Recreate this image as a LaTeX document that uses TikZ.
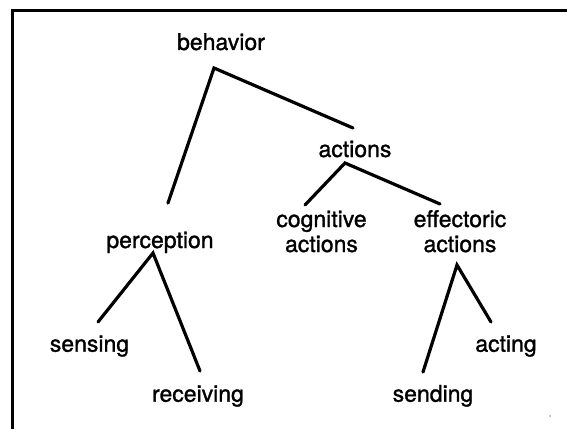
\documentclass[tikz,border=0pt]{standalone}
\usepackage{fontspec}
\setmainfont{TeX Gyre Heros}
\newfontfamily\treefont{TeX Gyre Heros}[FakeBold=1.2]
\begin{document}
\begin{tikzpicture}[x=1pt,y=-1pt,
  label/.style={inner sep=0pt,anchor=base,align=center,
    font=\treefont\fontsize{23}{25}\selectfont},
  branch/.style={line width=3.2pt,line cap=round,line join=miter},
  frameline/.style={line width=3pt}]
  \useasboundingbox (0,0) rectangle (567,428);
  % open frame: left and top edges
  \draw[frameline] (12,430) -- (12,10.5) -- (570,10.5);

  % labels (two-line labels sit on the baseline of their last line)
  \node[label] (behavior)   at (221,50)    {behavior};
  \node[label] (actions)    at (355,157)   {actions};
  \node[label] (cognitive)  at (321.5,252) {cognitive\\actions};
  \node[label] (effectoric) at (460,252)   {effectoric\\actions};
  \node[label] (perception) at (160,248)   {perception};
  \node[label] (sensing)    at (89.5,351.7) {sensing};
  \node[label] (receiving)  at (198,401.7) {receiving};
  \node[label] (acting)     at (506,351.7) {acting};
  \node[label] (sending)    at (433,401.7) {sending};

  % branch points and branch ends
  \coordinate (behavior-fork)   at (214,68);
  \coordinate (perception-end)  at (168,203);
  \coordinate (actions-end)     at (353,128);
  \coordinate (actions-fork)    at (345,163);
  \coordinate (cognitive-end)   at (305,205);
  \coordinate (effectoric-end)  at (440,204);
  \coordinate (perception-fork) at (153,253);
  \coordinate (sensing-end)     at (98,322);
  \coordinate (receiving-end)   at (200,371);
  \coordinate (effectoric-fork) at (457,265);
  \coordinate (sending-end)     at (423,372);
  \coordinate (acting-end)      at (491,322);

  % tree branches
  \draw[branch] (perception-end) -- (behavior-fork) -- (actions-end);
  \draw[branch] (cognitive-end) -- (actions-fork) -- (effectoric-end);
  \draw[branch] (sensing-end) -- (perception-fork) -- (receiving-end);
  \draw[branch] (sending-end) -- (effectoric-fork) -- (acting-end);

  % stray speck near the lower right corner
  \fill (550,416) circle (0.7);
\end{tikzpicture}
\end{document}
